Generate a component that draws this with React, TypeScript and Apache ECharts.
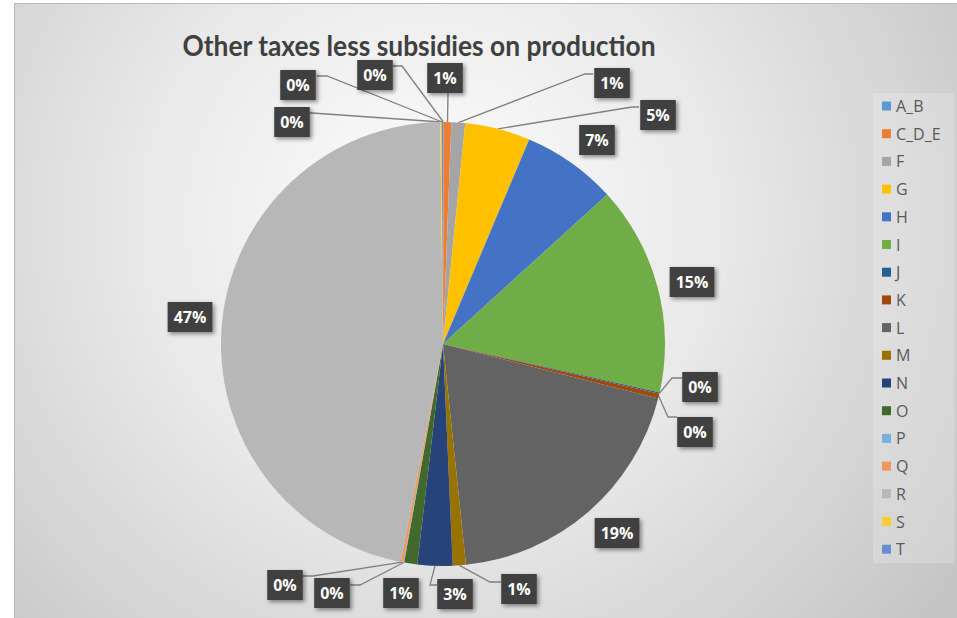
import React, { useEffect, useRef } from "react";
import * as echarts from "echarts";

// ---- data ----
const TITLE = "Other taxes less subsidies on production";
const categories = ["A_B", "C_D_E", "F", "G", "H", "I", "J", "K", "L", "M", "N", "O", "P", "Q", "R", "S", "T"];
const values = [0.05, 0.55, 1.0, 4.75, 6.9, 15.25, 0.1, 0.35, 19.4, 0.95, 2.55, 0.95, 0.05, 0.2, 46.75, 0.1, 0.1];
const colors = [
  "#5B9BD5", "#ED7D31", "#A5A5A5", "#FFC000", "#4472C4", "#70AD47", "#255E91", "#9E480E",
  "#636363", "#997300", "#264478", "#43682B", "#7CAFDD", "#F1975A", "#B7B7B7", "#FFCD33", "#698ED0",
];

// ---- layout (label box centres and leader line elbow/end points) ----
const CX = 443;
const CY = 344;
const R = 222;
const TITLE_WIDTH = 474;
const TITLE_FONT = "bold 29px Lato";
const labelCenters: Record<string, [number, number]> = {
  A_B: [375, 75],
  C_D_E: [445, 78],
  F: [612, 83],
  G: [658, 115],
  H: [597, 140],
  I: [692, 282],
  J: [700, 387],
  K: [695, 432],
  L: [617, 533],
  M: [519, 589],
  N: [455, 594],
  O: [401, 593],
  P: [332, 593],
  Q: [285, 585],
  R: [190, 317],
  S: [292, 122],
  T: [298, 85],
};
const leaderLines: Record<string, [number, number][]> = {
  A_B: [[402, 66], [393, 66]],
  C_D_E: [[448, 93], [448, 93]],
  F: [[585, 74], [593, 74]],
  G: [[632, 107], [639, 107]],
  J: [[672, 378], [682, 378]],
  K: [[668, 417], [677, 417]],
  M: [[490, 582], [501, 582]],
  N: [[430, 585], [437, 585]],
  P: [[360, 585], [350, 585]],
  Q: [[313, 576], [303, 576]],
  S: [[312, 113], [310, 113]],
  T: [[327, 76], [317, 76]],
};

const total = values.reduce((a, b) => a + b, 0);

function anchorOf(i: number): [number, number] {
  let cum = 0;
  for (let j = 0; j < i; j++) cum += values[j];
  const mid = ((cum + values[i] / 2) / total) * Math.PI * 2;
  return [CX + R * Math.sin(mid), CY - R * Math.cos(mid)];
}

function measure(text: string, font: string): number {
  const c = document.createElement("canvas");
  const ctx = c.getContext("2d");
  if (!ctx) return TITLE_WIDTH;
  ctx.font = font;
  return ctx.measureText(text).width || TITLE_WIDTH;
}

export default function App() {
  const ref = useRef<HTMLDivElement>(null);

  useEffect(() => {
    if (!ref.current) return;
    const chart = echarts.init(ref.current, undefined, { renderer: "svg" });
    const titleScale = Math.min(1.2, TITLE_WIDTH / measure(TITLE, TITLE_FONT));
    chart.setOption({
      animation: false,
      backgroundColor: "#ffffff",
      color: colors,
      graphic: [
        {
          type: "rect",
          z: -10,
          silent: true,
          shape: { x: 14.5, y: 3.5, width: 960, height: 640 },
          style: {
            fill: {
              type: "radial",
              x: 430,
              y: 220,
              r: 640,
              global: true,
              colorStops: [
                { offset: 0, color: "#fdfdfd" },
                { offset: 0.45, color: "#e9e9e9" },
                { offset: 1, color: "#c4c4c4" },
              ],
            },
            stroke: "#b8b8b8",
            lineWidth: 1,
          },
        },
        {
          type: "text",
          x: 419,
          y: 45,
          z: 10,
          scaleX: titleScale,
          style: {
            text: TITLE,
            align: "center",
            verticalAlign: "middle",
            fill: "#404040",
            font: TITLE_FONT,
          },
        },
      ],
      legend: {
        orient: "vertical",
        left: 873,
        top: 93,
        padding: [4, 14, 5, 9],
        itemWidth: 9,
        itemHeight: 9,
        itemGap: 9.7,
        icon: "rect",
        backgroundColor: "rgba(255,255,255,0.2)",
        textStyle: {
          color: "#595959",
          fontFamily: "Open Sans",
          fontSize: 16,
          lineHeight: 18,
        },
        data: categories,
      },
      series: [
        {
          type: "pie",
          center: [CX, CY],
          radius: R,
          startAngle: 90,
          clockwise: true,
          avoidLabelOverlap: false,
          emphasis: { disabled: true },
          itemStyle: { borderWidth: 0 },
          label: {
            show: true,
            position: "outside",
            formatter: (p: any) => Math.round((p.value / total) * 100) + "%",
            color: "#ffffff",
            fontFamily: "Open Sans",
            fontWeight: "bold",
            fontSize: 16,
            lineHeight: 18,
            backgroundColor: "#404040",
            padding: [6, 6, 6, 6],
            shadowBlur: 4,
            shadowOffsetX: 2,
            shadowOffsetY: 2,
            shadowColor: "rgba(0,0,0,0.45)",
          },
          labelLine: {
            show: true,
            lineStyle: { color: "#808080", width: 1.3 },
          },
          labelLayout: (p: any) => {
            const name = categories[p.dataIndex];
            const c = labelCenters[name];
            const out: any = { x: c[0], y: c[1], align: "center", verticalAlign: "middle" };
            const l = leaderLines[name];
            if (l) out.labelLinePoints = [anchorOf(p.dataIndex), l[0], l[1]];
            return out;
          },
          data: categories.map((n, i) => ({
            name: n,
            value: values[i],
            labelLine: { show: !!leaderLines[n] },
          })),
        },
      ],
    });
    return () => chart.dispose();
  }, []);

  return (
    <div
      ref={ref}
      style={{ position: "absolute", left: 0, top: 0, width: 957, height: 618 }}
    />
  );
}
